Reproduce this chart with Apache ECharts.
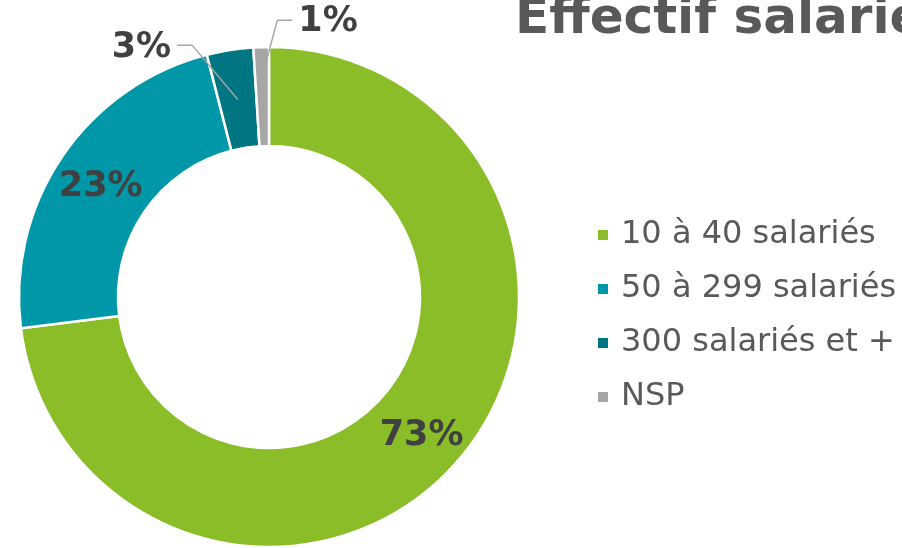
<!DOCTYPE html>
<html>
<head>
<meta charset="utf-8">
<script src="https://cdn.jsdelivr.net/npm/echarts@6/dist/echarts.min.js"></script>
<style>
  html, body { margin: 0; padding: 0; background: #ffffff; }
  #chart { width: 902px; height: 548px; }
</style>
</head>
<body>
<div id="chart"></div>
<script>
// données du graphique
var categories = ['10 à 40 salariés', '50 à 299 salariés', '300 salariés et +', 'NSP']
var values = [73, 23, 3, 1]
var colors = ['#8abd28', '#0097a9', '#007682', '#a6a6a6']

var myChart = echarts.init(document.getElementById('chart'))

// petites parts : étiquette à l'extérieur avec trait de rappel
var outsideLabel = {
  2: { length: 5, inward: 50, shift: -37, side: -1, dy: 3 },
  3: { length: 27, inward: 30, shift: 17, side: 1, dy: 2 }
}

var labelFont = {
  fontFamily: 'DejaVu Sans',
  fontSize: 35,
  fontWeight: 'bold',
  color: '#404040'
}

// série principale : anneau + étiquettes intérieures
var ringData = categories.map(function (name, i) {
  return {
    name: name,
    value: values[i],
    itemStyle: { color: colors[i] },
    label: { show: !outsideLabel[i] }
  }
})

// série superposée transparente : étiquettes extérieures, traits au-dessus de l'anneau
var overlayData = categories.map(function (name, i) {
  var item = { name: name, value: values[i], label: { show: !!outsideLabel[i] } }
  if (outsideLabel[i]) {
    item.labelLine = { show: true, length: outsideLabel[i].length, length2: 15 }
  }
  return item
})

var option = {
  backgroundColor: '#ffffff',
  animation: false,
  title: {
    text: 'Effectif salariés',
    left: 515,
    top: -5,
    padding: 0,
    textStyle: {
      fontFamily: 'DejaVu Sans',
      fontSize: 50,
      fontWeight: 'bold',
      color: '#595959',
      lineHeight: 50
    }
  },
  legend: {
    orient: 'vertical',
    left: 596,
    top: 217,
    padding: 0,
    icon: 'rect',
    itemWidth: 12,
    itemHeight: 12,
    itemGap: 18,
    data: categories,
    textStyle: {
      fontFamily: 'DejaVu Sans',
      fontSize: 32,
      color: '#595959',
      lineHeight: 36,
      padding: [0, 0, 0, 7]
    }
  },
  series: [
    {
      type: 'pie',
      z: 2,
      center: [269, 297],
      radius: [151, 250],
      startAngle: 90,
      clockwise: true,
      avoidLabelOverlap: false,
      itemStyle: { borderColor: '#ffffff', borderWidth: 2.5 },
      label: Object.assign({ position: 'inside', formatter: '{c}%' }, labelFont),
      labelLine: { show: false },
      labelLayout: function (p) {
        return { dy: 4 }
      },
      data: ringData
    },
    {
      type: 'pie',
      z: 3,
      silent: true,
      center: [269, 297],
      radius: [151, 250],
      startAngle: 90,
      clockwise: true,
      avoidLabelOverlap: false,
      itemStyle: { color: 'rgba(0,0,0,0)', borderWidth: 0 },
      label: Object.assign({ position: 'outside', formatter: '{c}%' }, labelFont),
      labelLine: {
        show: false,
        lineStyle: { color: '#a6a6a6', width: 1.5 }
      },
      labelLayout: function (p) {
        var cfg = outsideLabel[p.dataIndex]
        if (!cfg || !p.labelLinePoints) return
        var a = p.labelLinePoints[0]
        var b = p.labelLinePoints[1]
        var vx = b[0] - a[0]
        var vy = b[1] - a[1]
        var len = Math.sqrt(vx * vx + vy * vy) || 1
        var start = [a[0] - vx / len * cfg.inward, a[1] - vy / len * cfg.inward]
        var elbow = [b[0] + cfg.shift, b[1]]
        var end = [elbow[0] + cfg.side * 15, elbow[1]]
        return {
          x: end[0] + cfg.side * 6,
          y: end[1] + cfg.dy,
          align: cfg.side < 0 ? 'right' : 'left',
          verticalAlign: 'middle',
          labelLinePoints: [start, elbow, end]
        }
      },
      data: overlayData
    }
  ]
}

myChart.setOption(option)
</script>
</body>
</html>
